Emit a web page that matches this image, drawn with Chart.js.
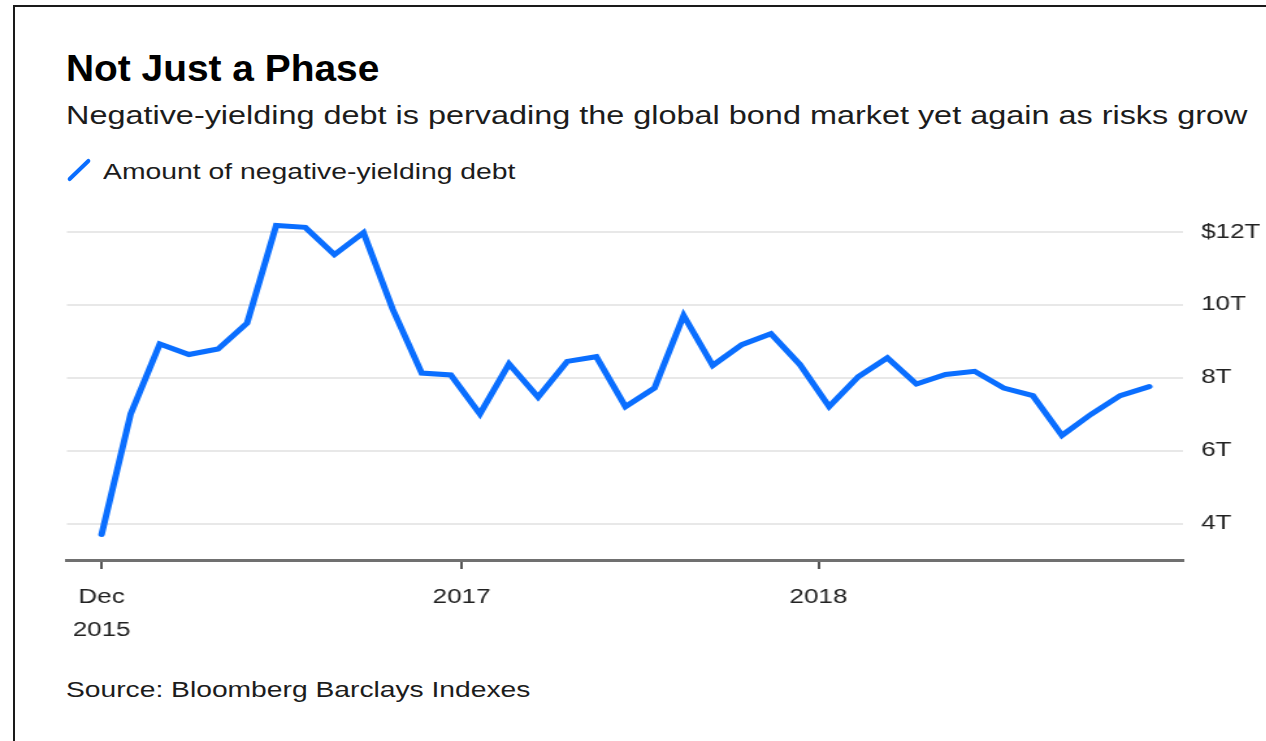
<!DOCTYPE html>
<html>
<head>
<meta charset="utf-8">
<script src="https://cdn.jsdelivr.net/npm/chart.js@4.4.1/dist/chart.umd.min.js"></script>
<style>
  html, body { margin: 0; padding: 0; background: #fff; }
  body { width: 1266px; height: 741px; position: relative; overflow: hidden;
         font-family: "Liberation Sans", Arial, sans-serif; color: #1c1c1c; }
  .frame { position: absolute; left: 13px; top: 5px; width: 1300px; height: 800px;
           border-left: 2px solid #1a1a1a; border-top: 2px solid #1a1a1a; }
  .txt { position: absolute; white-space: nowrap; line-height: 1; transform-origin: 0 0; }
  #title { left: 66px; top: 51px; font-size: 36px; font-weight: bold; color: #000; transform: scaleX(1.08); }
  #subtitle { left: 66px; top: 103px; font-size: 25px; transform: scaleX(1.296); }
  #legendText { left: 103px; top: 161px; font-size: 22px; transform: scaleX(1.287); }
  #source { left: 66px; top: 679px; font-size: 22px; transform: scaleX(1.283); }
  .swatch { position: absolute; left: 64px; top: 168px; width: 30px; height: 4px; border-radius: 2px;
            background: #0a6eff; transform: rotate(-44deg); }
  /* the plot is laid out narrower and stretched sideways */
  .plot { position: absolute; left: 0; top: 200px; width: 974px; height: 460px;
          transform: scaleX(1.3); transform-origin: 0 0; }
</style>
</head>
<body>
<div class="frame"></div>
<div class="txt" id="title">Not Just a Phase</div>
<div class="txt" id="subtitle">Negative-yielding debt is pervading the global bond market yet again as risks grow</div>
<div class="swatch"></div>
<div class="txt" id="legendText">Amount of negative-yielding debt</div>
<div class="plot"><canvas id="debtChart"></canvas></div>
<div class="txt" id="source">Source: Bloomberg Barclays Indexes</div>

<script>
// Monthly amount of negative-yielding debt, $ trillions, Dec 2015 onward
const debtValues = [3.70, 7.01, 8.93, 8.64, 8.79, 9.50, 12.18, 12.13, 11.38, 11.98, 9.89, 8.13,
                    8.08, 7.01, 8.38, 7.47, 8.45, 8.58, 7.21, 7.72, 9.71, 8.34, 8.91, 9.21,
                    8.36, 7.21, 8.03, 8.55, 7.83, 8.09, 8.18, 7.72, 7.51, 6.42, 7.00, 7.51, 7.76];

// x axis ticks, in months from the first observation
const xTickPositions = [0, 12.37, 24.63];
const xTickLabels = [['Dec', '2015'], '2017', '2018'];

const yTickValues = [4, 6, 8, 10, 12];
const yTickLabels = ['4T', '6T', '8T', '10T', '$12T'];

const points = debtValues.map((v, i) => ({ x: i, y: v }));

new Chart(document.getElementById('debtChart'), {
    type: 'line',
    data: {
        datasets: [{
            label: 'Amount of negative-yielding debt',
            data: points,
            borderColor: '#0a6eff',
            borderWidth: 5,
            borderJoinStyle: 'miter',
            borderCapStyle: 'round',
            pointRadius: 0,
            tension: 0,
            fill: false,
        }]
    },
    options: {
        responsive: true,
        maintainAspectRatio: false,
        animation: false,
        layout: { padding: { left: 51.5, top: 17.5, right: 0, bottom: 0 } },
        plugins: {
            legend: { display: false },
            tooltip: { enabled: false },
        },
        scales: {
            x: {
                type: 'linear',
                min: -1.19,
                max: 37.16,
                afterBuildTicks: axis => { axis.ticks = xTickPositions.map(v => ({ value: v })); },
                afterFit: axis => { axis.height = 100; },
                grid: { drawOnChartArea: false, drawTicks: true, tickLength: 9, color: '#555', lineWidth: 2 },
                border: { display: true, color: '#707070', width: 3 },
                ticks: {
                    autoSkip: false,
                    maxRotation: 0,
                    padding: 12,
                    color: '#222',
                    font: { family: '"Liberation Sans", Arial, sans-serif', size: 20, lineHeight: 1.65 },
                    callback: (value, index) => xTickLabels[index],
                },
            },
            y: {
                type: 'linear',
                position: 'right',
                min: 3,
                max: 12.4,
                afterBuildTicks: axis => { axis.ticks = yTickValues.map(v => ({ value: v })); },
                // fixed width; the tick padding should not push the plot down
                afterFit: axis => { axis.width = 64; axis.paddingTop = 0; axis.paddingBottom = 0; },
                grid: { drawTicks: false, color: '#e8e8e8', lineWidth: 2 },
                border: { display: false },
                ticks: {
                    padding: 14,
                    color: '#222',
                    font: { family: '"Liberation Sans", Arial, sans-serif', size: 20 },
                    callback: (value, index) => yTickLabels[index],
                },
            },
        },
    },
});
</script>
</body>
</html>
